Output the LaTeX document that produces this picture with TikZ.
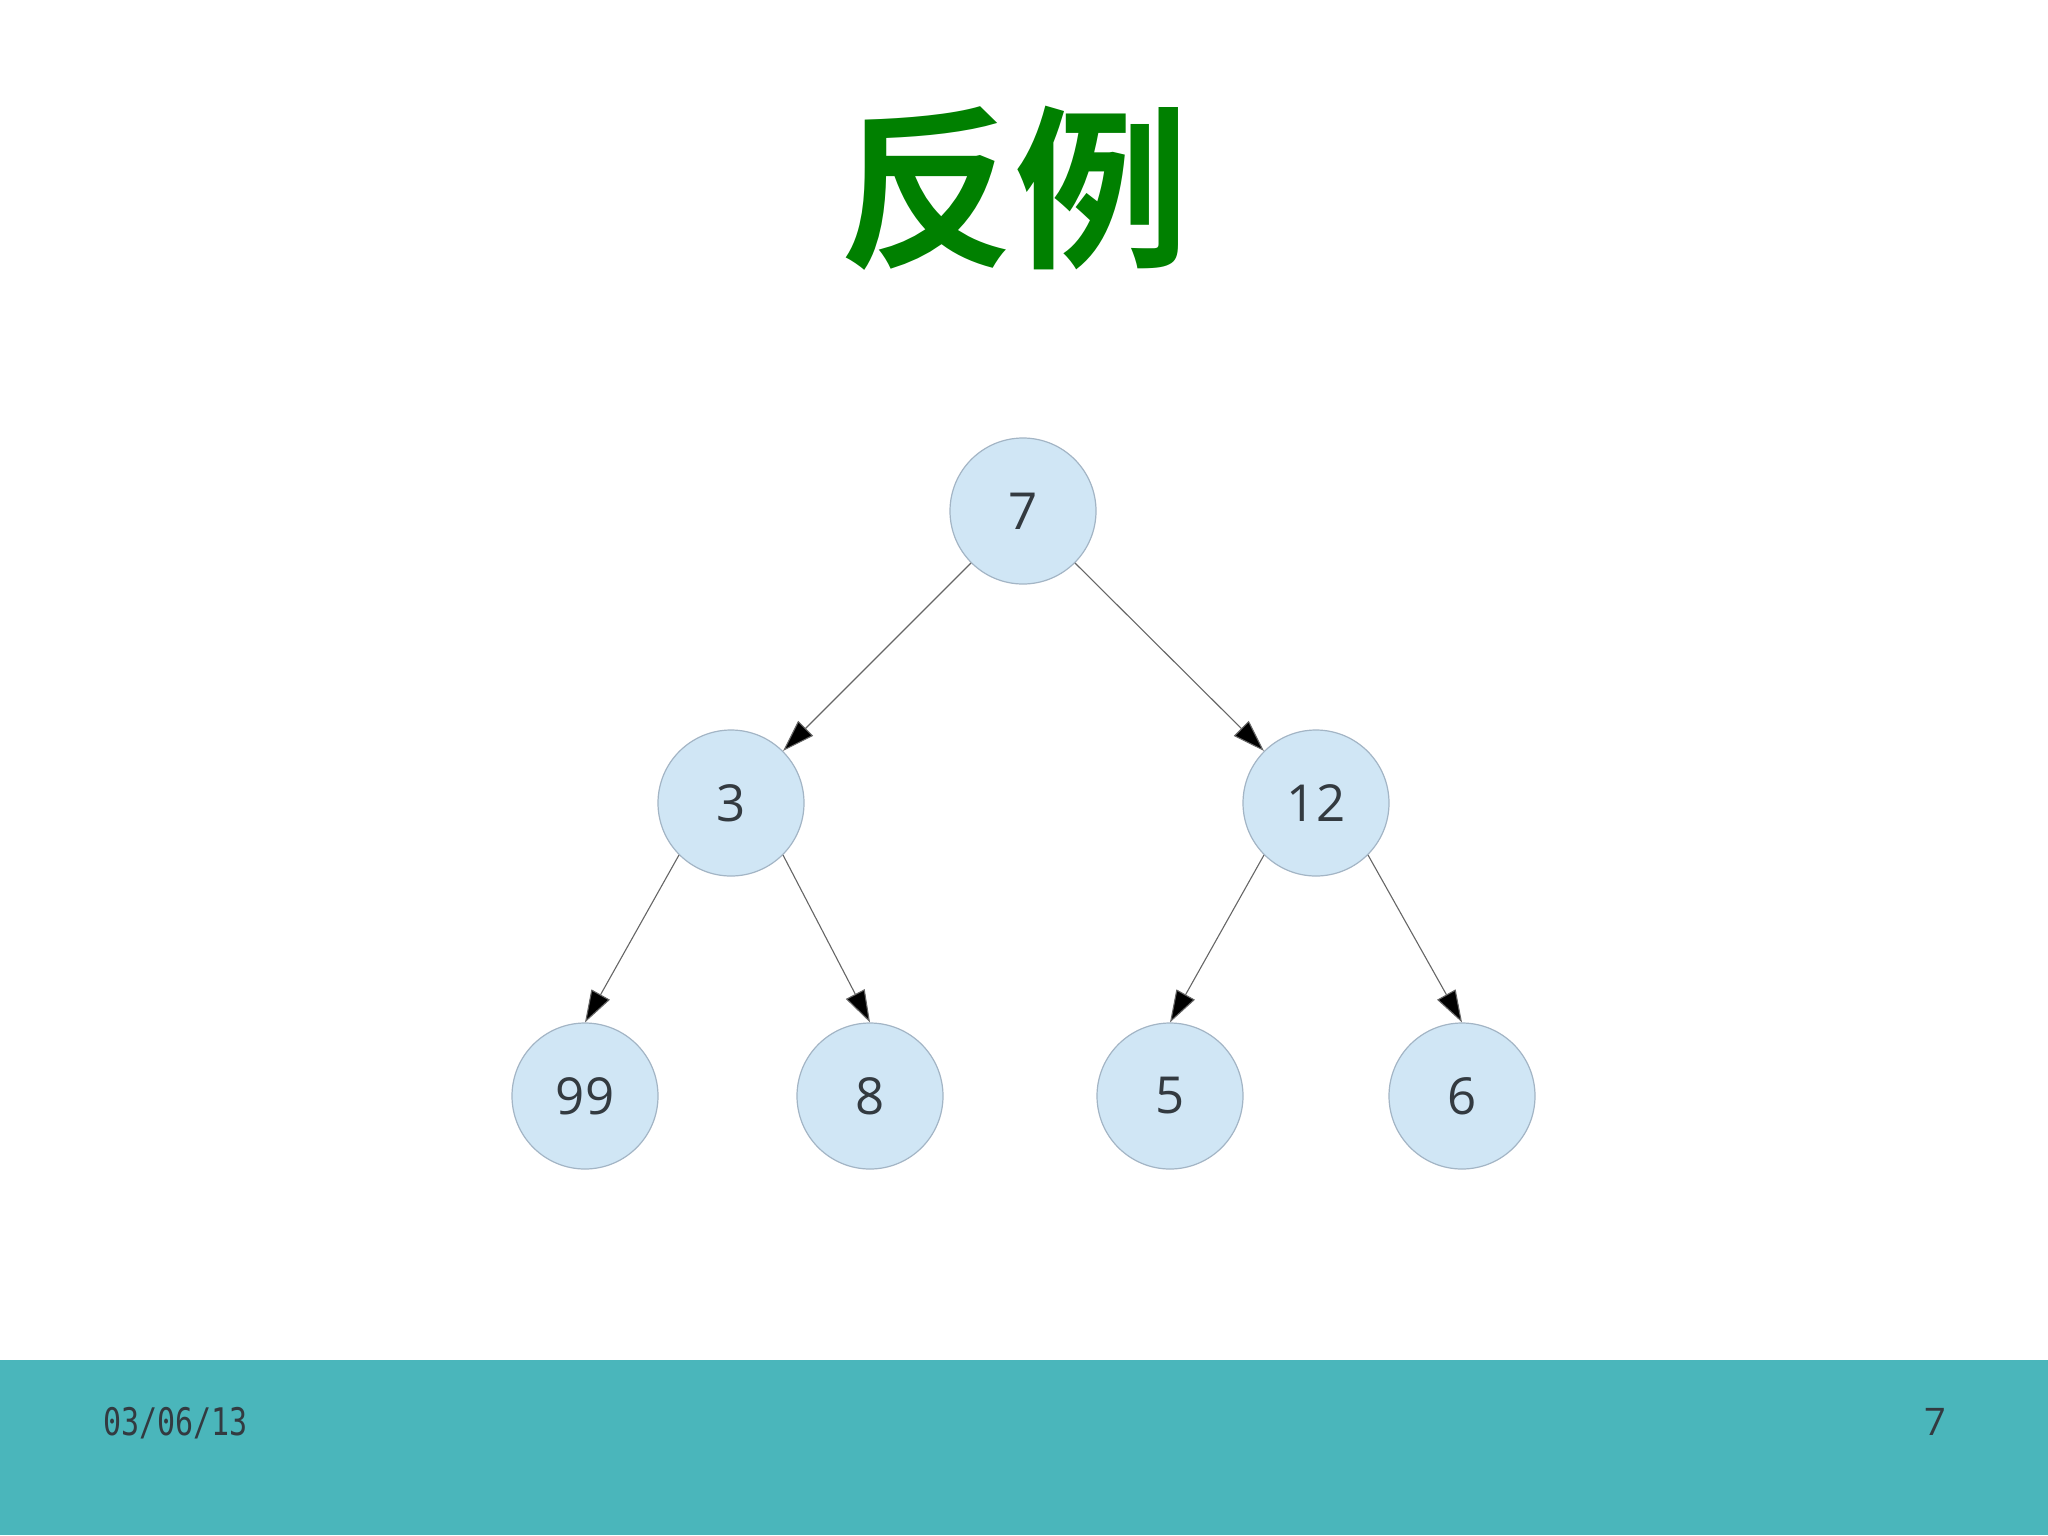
\documentclass[tikz,border=0pt]{standalone}
\usepackage{fontspec}
\usetikzlibrary{arrows.meta}
\newfontfamily\cjkfont{Noto Sans CJK SC}[BoldFont={Noto Sans CJK SC Bold}]
\newfontfamily\numfont{Open Sans}
\newfontfamily\datefont{DejaVu Sans Mono}[FakeStretch=0.79]
\definecolor{titlegreen}{HTML}{008000}
\definecolor{nodefill}{HTML}{D0E6F5}
\definecolor{nodeline}{HTML}{A3B5C5}
\definecolor{band}{HTML}{4AB6BB}
\definecolor{textdark}{HTML}{333A40}
\definecolor{edgegray}{HTML}{666666}
\tikzset{
  treenode/.style={circle, draw=nodeline, line width=1.2pt, fill=nodefill, minimum size=146pt, inner sep=0pt,
    font=\numfont\fontsize{51}{51}\selectfont, text=textdark},
  treeedge/.style={draw=edgegray, line width=1.1pt, -{Triangle[length=32pt,width=21pt,fill=black]}},
}
\begin{document}
\begin{tikzpicture}[x=1pt,y=-1pt]
\useasboundingbox (0,0) rectangle (2048,1535);
\fill[white] (0,0) rectangle (2048,1535);
\fill[band] (0,1360) rectangle (2048,1535);
\node[anchor=center, inner sep=0pt, text=titlegreen, font=\cjkfont\bfseries\fontsize{175}{175}\selectfont] (title) at (1014,188) {反例};
\node[treenode] (n7) at (1023,511) {7};
\node[treenode] (n3) at (731,803) {3};
\node[treenode] (n12) at (1316,803) {12};
\node[treenode] (n99) at (585,1096) {99};
\node[treenode] (n8) at (870,1096) {8};
\node[treenode] (n5) at (1170,1096) {5};
\node[treenode] (n6) at (1462,1096) {6};
\draw[treeedge] (n7.south west) -- (n3.north east);
\draw[treeedge] (n7.south east) -- (n12.north west);
\draw[treeedge] (n3.south west) -- (n99.north);
\draw[treeedge] (n3.south east) -- (n8.north);
\draw[treeedge] (n12.south west) -- (n5.north);
\draw[treeedge] (n12.south east) -- (n6.north);
\node[anchor=base west, inner sep=0pt, text=textdark, font=\datefont\fontsize{38}{38}\selectfont] (date) at (103,1435) {03/06/13};
\node[anchor=base east, inner sep=0pt, text=textdark, font=\numfont\fontsize{38}{38}\selectfont] (page) at (1946,1435) {7};
\end{tikzpicture}
\end{document}
